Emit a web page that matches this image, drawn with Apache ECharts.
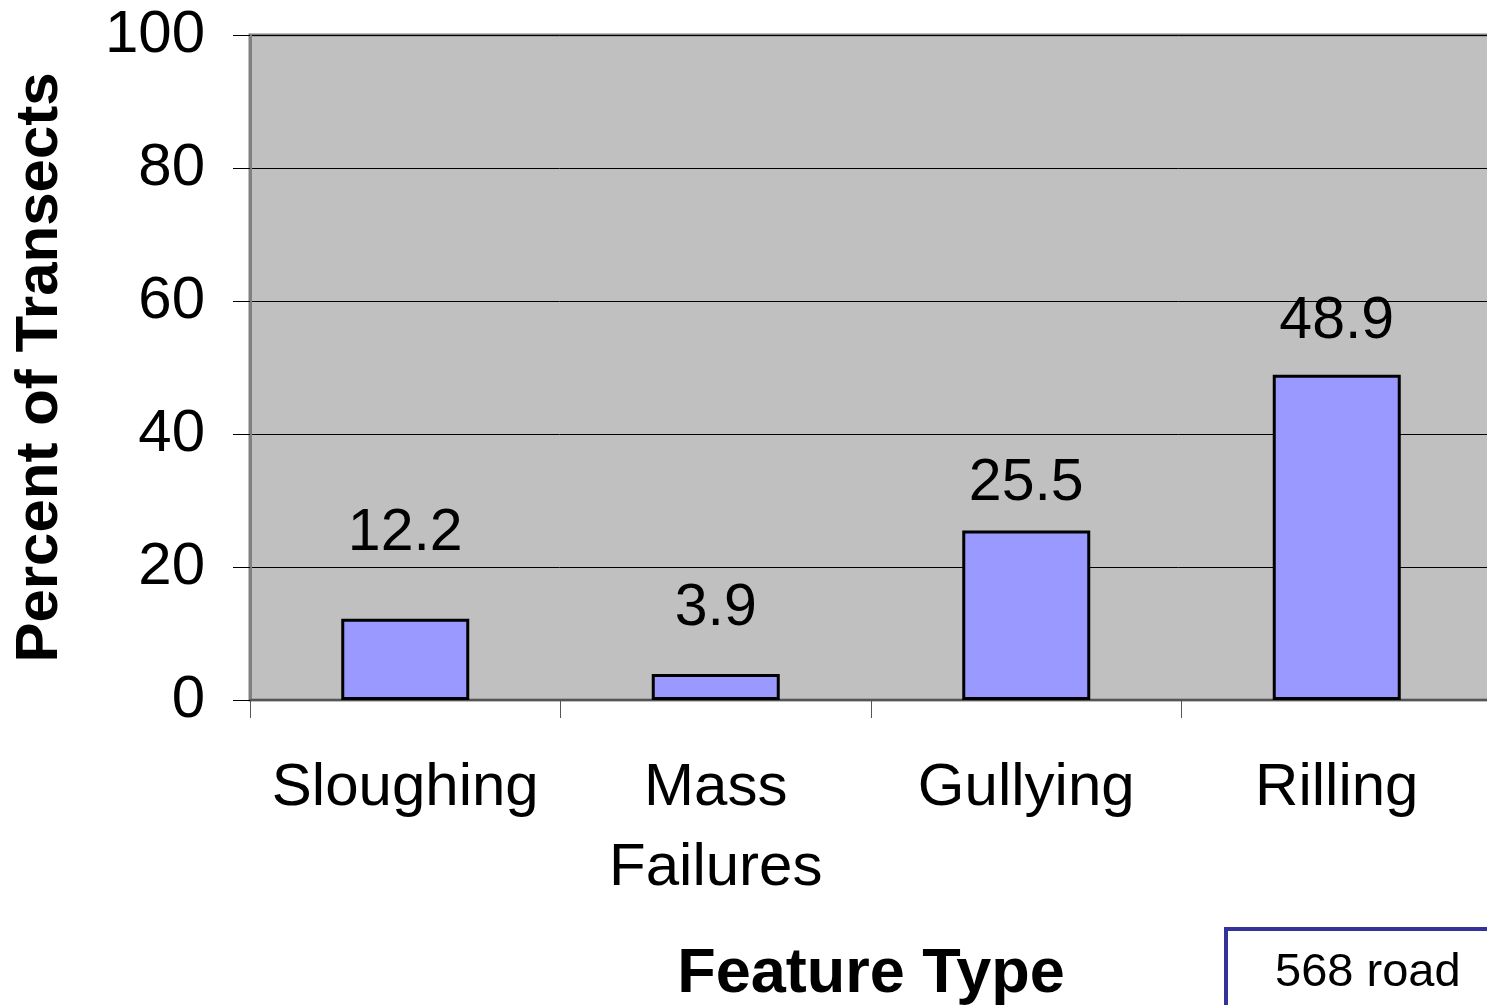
<!DOCTYPE html>
<html>
<head>
<meta charset="utf-8">
<script src="https://cdn.jsdelivr.net/npm/echarts@6/dist/echarts.min.js"></script>
<style>
  html, body { margin: 0; padding: 0; background: #fff; }
  #main { width: 1487px; height: 1005px; }
</style>
</head>
<body>
<div id="main"></div>
<script>
// data
const categories = ['Sloughing', 'Mass\nFailures', 'Gullying', 'Rilling']
const seriesName = '568 road'
const values = [12.2, 3.9, 25.5, 48.9]
const yTicks = [0, 20, 40, 60, 80, 100]

// labels in the source were dragged by hand, so each sits at its own height
const labelLift = [56, 36, 17, 24]

const font = 'Liberation Sans, Arial, sans-serif'
const myChart = echarts.init(document.getElementById('main'))

let barData = values.map((v, i) => {
  return {
    value: v,
    label: { distance: labelLift[i] }
  }
})

let option = {
  animation: false,
  backgroundColor: '#fff',
  textStyle: { fontFamily: font, color: '#000' },
  grid: {
    left: 250,
    top: 35,
    width: 1242,
    height: 665,
    outerBoundsMode: 'none',
    show: true,
    backgroundColor: '#C0C0C0',
    borderColor: '#808080',
    borderWidth: 3
  },
  legend: {
    left: 1226,
    top: 929,
    data: [seriesName],
    itemWidth: 0,
    itemHeight: 0,
    itemGap: 0,
    padding: [21, 80, 40, 43],
    backgroundColor: '#fff',
    borderColor: '#333399',
    borderWidth: 4,
    borderRadius: 0,
    textStyle: { fontSize: 47, fontFamily: font, color: '#000' }
  },
  xAxis: {
    type: 'category',
    data: categories,
    boundaryGap: true,
    name: 'Feature Type',
    nameLocation: 'middle',
    nameGap: 243,
    nameTextStyle: { fontSize: 63, fontWeight: 'bold', fontFamily: font, color: '#000' },
    axisLine: { show: true, lineStyle: { color: '#555', width: 2 } },
    axisTick: { show: true, length: 18, lineStyle: { color: '#555', width: 1 } },
    axisLabel: {
      margin: 48,
      fontSize: 60,
      lineHeight: 80,
      fontFamily: font,
      color: '#000',
      interval: 0
    },
    splitLine: { show: false }
  },
  yAxis: {
    type: 'value',
    min: 0,
    max: 100,
    interval: 20,
    name: 'Percent of Transects',
    nameLocation: 'middle',
    nameGap: 180,
    nameRotate: 90,
    nameTextStyle: { fontSize: 60, fontWeight: 'bold', fontFamily: font, color: '#000' },
    axisLine: { show: true, lineStyle: { color: '#808080', width: 3 } },
    axisTick: { show: true, length: 17, lineStyle: { color: '#000', width: 1 } },
    axisLabel: {
      margin: 45,
      fontSize: 60,
      fontFamily: font,
      color: '#000',
      formatter: (v) => (yTicks.indexOf(v) >= 0 ? String(v) : '')
    },
    splitLine: { show: true, lineStyle: { color: '#000', width: 1 } }
  },
  series: [
    {
      name: seriesName,
      type: 'bar',
      data: barData,
      barWidth: 128,
      itemStyle: {
        color: '#9999FF',
        borderColor: '#000',
        borderWidth: 3
      },
      label: {
        show: true,
        position: 'top',
        fontSize: 59,
        fontFamily: font,
        color: '#000'
      }
    }
  ]
}

myChart.setOption(option)
</script>
</body>
</html>
